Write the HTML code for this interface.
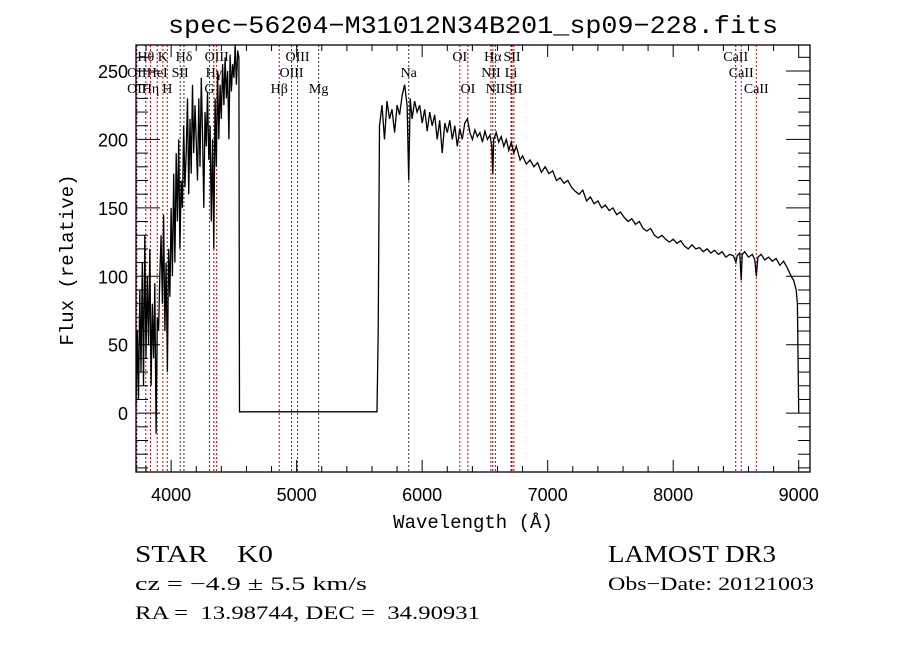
<!DOCTYPE html>
<html><head><meta charset="utf-8"><style>
body{margin:0;background:#fff;}
svg{display:block;font-family:"Liberation Serif",serif;}
</style></head><body>
<svg id="chart" width="900" height="649" viewBox="0 0 900 649" xmlns="http://www.w3.org/2000/svg">
<rect width="900" height="649" fill="#fff"/>
<text x="168" y="33" textLength="610" lengthAdjust="spacingAndGlyphs" font-family="Liberation Mono, monospace" font-size="25">spec−56204−M31012N34B201_sp09−228.fits</text>
<g id="lines"></g>
<g id="labels" font-size="14"></g>
<polyline id="spec" fill="none" stroke="#000" stroke-width="1.3"/>
<g id="axes"></g>
<text x="473" y="528" text-anchor="middle" font-family="Liberation Mono, monospace" font-size="19">Wavelength (Å)</text>
<text transform="translate(73,260) rotate(-90)" text-anchor="middle" font-family="Liberation Mono, monospace" font-size="19">Flux (relative)</text>
<text x="135" y="562" font-size="24" textLength="138" lengthAdjust="spacingAndGlyphs">STAR&#160;&#160;&#160;&#160;K0</text>
<text x="135" y="590" font-size="19" textLength="232" lengthAdjust="spacingAndGlyphs">cz = −4.9 ± 5.5 km/s</text>
<text x="135" y="619" font-size="19" textLength="345" lengthAdjust="spacingAndGlyphs">RA =&#160;&#160;13.98744, DEC =&#160;&#160;34.90931</text>
<text x="608" y="562" font-size="24" textLength="168" lengthAdjust="spacingAndGlyphs">LAMOST DR3</text>
<text x="608" y="590" font-size="19" textLength="206" lengthAdjust="spacingAndGlyphs">Obs−Date: 20121003</text>
</svg>
<script>
const wl=[3720,3730,3740,3750,3760,3770,3780,3790,3800,3810,3820,3830,3840,3850,3860,3870,3880,3890,3900,3910,3920,3930,3940,3950,3960,3970,3980,3990,4000,4010,4020,4030,4040,4050,4060,4070,4080,4090,4100,4110,4120,4130,4140,4150,4160,4170,4180,4190,4200,4210,4220,4230,4240,4250,4260,4270,4280,4290,4300,4310,4320,4330,4340,4350,4360,4370,4380,4390,4400,4410,4420,4430,4440,4450,4460,4470,4480,4490,4500,4510,4520,4530,4540,4545,5640,5650,5660,5680,5700,5720,5740,5760,5780,5800,5820,5840,5860,5880,5893,5905,5920,5940,5960,5980,6000,6020,6040,6060,6080,6100,6120,6140,6160,6180,6200,6220,6240,6260,6280,6300,6320,6340,6360,6380,6400,6420,6440,6460,6480,6500,6520,6540,6555,6563,6570,6590,6610,6630,6650,6670,6690,6710,6730,6750,6780,6800,6830,6860,6890,6920,6950,6980,7010,7040,7070,7100,7130,7160,7190,7220,7250,7280,7310,7340,7370,7400,7430,7460,7490,7520,7550,7580,7610,7640,7670,7700,7730,7760,7790,7820,7850,7880,7910,7940,7970,8000,8030,8060,8090,8120,8150,8180,8210,8240,8270,8300,8330,8360,8390,8420,8450,8480,8500,8510,8530,8542,8550,8570,8600,8630,8650,8662,8675,8700,8730,8760,8790,8820,8850,8880,8910,8940,8960,8980,8990,9000];
const flux=[5,60,10,90,30,110,20,130,40,100,50,120,20,80,40,95,-15,70,60,100,130,80,145,60,110,30,120,85,150,100,175,110,190,140,200,120,170,150,210,165,190,230,160,215,175,240,190,225,200,170,230,180,245,205,150,220,195,235,185,210,140,200,120,230,180,250,200,240,215,255,225,260,230,250,200,262,235,255,245,270,240,265,260,1,1,60,210,225,200,228,215,222,205,225,218,232,240,225,170,230,215,228,220,225,212,222,206,220,210,218,200,214,190,212,205,214,200,210,195,208,200,212,215,205,200,207,202,205,198,206,200,203,195,175,200,205,198,202,195,200,192,198,190,195,185,188,182,185,180,183,176,180,175,177,170,172,168,170,165,162,160,163,155,158,153,155,150,152,148,150,145,147,143,140,142,138,140,135,133,135,130,128,130,127,125,127,124,126,122,120,123,120,121,118,120,117,119,116,118,114,116,115,110,115,117,97,116,118,114,116,112,100,114,116,112,114,111,113,108,111,106,100,97,90,80,0];
const lineWl=[3727,3798,3835,3889,3934,3969,4072,4102,4305,4340,4363,4861,4959,5007,5175,5893,6300,6364,6548,6563,6583,6708,6716,6731,8498,8542,8662];
const lineBlack=[0,0,0,0,0,0,1,1,0,0,0,0,0,0,1,1,0,0,0,1,0,0,0,0,0,0,0];
const labTxt=["Hθ","K","Hδ","OIII","OIII","OI","Hα","SII","CaII","OII","HeI","SII","Hγ","OIII","Na","NII","Li","CaII","OII","Hη","H","G","Hβ","Mg","OI","NII","SII","CaII"];
const labWl=[3798,3934,4102,4363,5007,6300,6563,6716,8498,3727,3889,4072,4340,4959,5893,6548,6708,8542,3727,3835,3969,4305,4861,5175,6364,6583,6731,8662];
const labRow=[0,0,0,0,0,0,0,0,0,1,1,1,1,1,1,1,1,1,2,2,2,2,2,2,2,2,2,2];
const xTicks=[4000,5000,6000,7000,8000,9000];
const yTicks=[0,50,100,150,200,250];
const X0=3720,X1=9090,Y0=-43,Y1=269,L=136,R=810,T=45,B=472;
const sx=w=>L+(w-X0)*(R-L)/(X1-X0);
const sy=f=>B-(f-Y0)*(B-T)/(Y1-Y0);
const NS="http://www.w3.org/2000/svg";
function mk(t,a,p){const e=document.createElementNS(NS,t);for(const k in a)e.setAttribute(k,a[k]);p.appendChild(e);return e;}
document.getElementById('spec').setAttribute('points',wl.map((w,i)=>sx(w).toFixed(1)+','+sy(Math.max(Y0,Math.min(Y1,flux[i]))).toFixed(1)).join(' '));
const lg=document.getElementById('lines');
lineWl.forEach((w,i)=>{const l=mk('line',{x1:sx(w),x2:sx(w),y1:T,y2:B,stroke:lineBlack[i]?'#333':'#c00000','stroke-width':1,'stroke-dasharray':'2,2'},lg);

});
const lb=document.getElementById('labels');
labTxt.forEach((t,i)=>{const e=mk('text',{x:sx(labWl[i]),y:61+labRow[i]*16,'text-anchor':'middle'},lb);e.textContent=t;

});
const ax=document.getElementById('axes');
mk('rect',{x:L,y:T,width:R-L,height:B-T,fill:'none',stroke:'#000','stroke-width':1.3},ax);
for(let w=3800;w<=X1;w+=200){const maj=w%1000===0;const h=maj?12:6;
mk('line',{x1:sx(w),x2:sx(w),y1:B,y2:B-h,stroke:'#000'},ax);mk('line',{x1:sx(w),x2:sx(w),y1:T,y2:T+h,stroke:'#000'},ax);}
for(let f=-40;f<=Y1;f+=10){const maj=f%50===0;const h=maj?24:12;
mk('line',{x1:L,x2:L+h,y1:sy(f),y2:sy(f),stroke:'#000'},ax);mk('line',{x1:R,x2:R-h,y1:sy(f),y2:sy(f),stroke:'#000'},ax);}
xTicks.forEach(v=>{const e=mk('text',{x:sx(v),y:B+29,'text-anchor':'middle','font-family':'Liberation Sans, sans-serif','font-size':18},ax);e.textContent=v;

});
yTicks.forEach(v=>{const e=mk('text',{x:128,y:sy(v)+7,'text-anchor':'end','font-family':'Liberation Sans, sans-serif','font-size':18},ax);e.textContent=v;

});
</script>
</body></html>
